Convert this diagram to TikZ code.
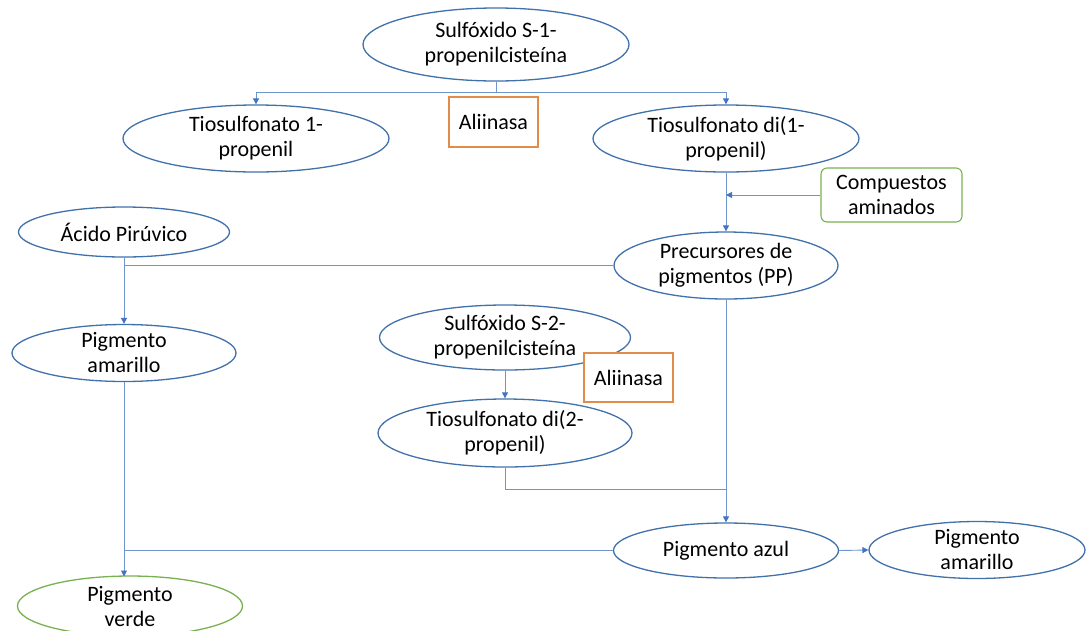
\documentclass[tikz,border=0pt]{standalone}
\usepackage{fontspec}
\setmainfont{Carlito}
\usetikzlibrary{shapes.geometric,arrows.meta}
\definecolor{ellblue}{RGB}{65,113,170}
\definecolor{lineblue}{RGB}{110,150,205}
\definecolor{tipblue}{RGB}{68,114,196}
\definecolor{boxorange}{RGB}{226,140,75}
\definecolor{boxgreen}{RGB}{120,178,80}
\tikzset{
  ell/.style={ellipse, draw=ellblue, line width=1.3pt, fill=white, inner sep=0pt, align=center,
    font=\fontsize{22}{25}\selectfont},
  gell/.style={ell, draw=boxgreen},
  enzbox/.style={rectangle, draw=boxorange, line width=1.3pt, fill=white, inner sep=0pt, align=center,
    font=\fontsize{22}{25}\selectfont},
  gbox/.style={rectangle, rounded corners=6pt, draw=boxgreen, line width=1.1pt, fill=white, inner sep=0pt, align=center,
    font=\fontsize{22}{25}\selectfont},
  conn/.style={draw=lineblue, line width=0.9pt},
  arr/.style={conn, -{Triangle[length=6pt,width=6pt,color=tipblue]}}
}
\begin{document}
\begin{tikzpicture}[x=1pt,y=-1pt]
\useasboundingbox (0,0) rectangle (1086,630);
\begin{scope}
\clip (0,0) rectangle (1086,630);
% nodes
\node[ell, minimum width=266pt, minimum height=73pt] (S1) at (496,44.5) {Sulfóxido S-1-\\propenilcisteína};
\node[ell, minimum width=266pt, minimum height=67pt] (T1) at (256,138.5) {Tiosulfonato 1-\\propenil};
\node[enzbox, minimum width=89pt, minimum height=50pt] (E1) at (493.5,122) {Aliinasa};
\node[ell, minimum width=266pt, minimum height=67pt] (TD1) at (726,138.5) {Tiosulfonato di(1-\\propenil)};
\node[gbox, minimum width=141pt, minimum height=54pt] (CA) at (891.5,195) {Compuestos\\aminados};
\node[ell, minimum width=224pt, minimum height=67pt] (PP) at (726,265.5) {Precursores de\\pigmentos (PP)};
\node[ell, minimum width=211pt, minimum height=50pt] (AP) at (124,232) {Ácido Pirúvico};
\node[ell, minimum width=224pt, minimum height=54pt] (PA1) at (124,353) {Pigmento\\amarillo};
\node[ell, minimum width=251pt, minimum height=65pt] (S2) at (505,337.5) {Sulfóxido S-2-\\propenilcisteína};
\node[ell, minimum width=254pt, minimum height=68pt] (TD2) at (505,433) {Tiosulfonato di(2-\\propenil)};
\node[enzbox, minimum width=89pt, minimum height=49pt] (E2) at (628.5,377.5) {Aliinasa};
\node[ell, minimum width=225pt, minimum height=55pt] (AZ) at (726,550.5) {Pigmento azul};
\node[ell, minimum width=216pt, minimum height=54pt] (PA2) at (977,550) {Pigmento\\amarillo};
\node[gell, minimum width=225pt, minimum height=60pt] (PV) at (130,606) {Pigmento\\verde};
% junction coordinates
\coordinate (j1) at (496,92);
\coordinate (jCA) at (726,195);
\coordinate (j2) at (124,265.5);
\coordinate (j3) at (726,489);
\coordinate (j4) at (124,550.5);
\coordinate (jPV) at (124,576.5);
% connectors
\draw[conn] (S1.south) -- (j1);
\draw[arr] (j1) -| (T1.north);
\draw[arr] (j1) -| (TD1.north);
\draw[arr] (TD1.south) -- (PP.north);
\draw[arr] (CA.west) -- (jCA);
\draw[conn] (PP.west) -- (j2);
\draw[arr] (AP.south) -- (PA1.north);
\draw[arr] (S2.south) -- (TD2.north);
\draw[conn] (TD2.south) |- (j3);
\draw[arr] (PP.south) -- (AZ.north);
\draw[arr] (AZ.east) -- (PA2.west);
\draw[conn] (AZ.west) -- (j4);
\draw[arr] (PA1.south) -- (jPV);
\end{scope}
\end{tikzpicture}
\end{document}
